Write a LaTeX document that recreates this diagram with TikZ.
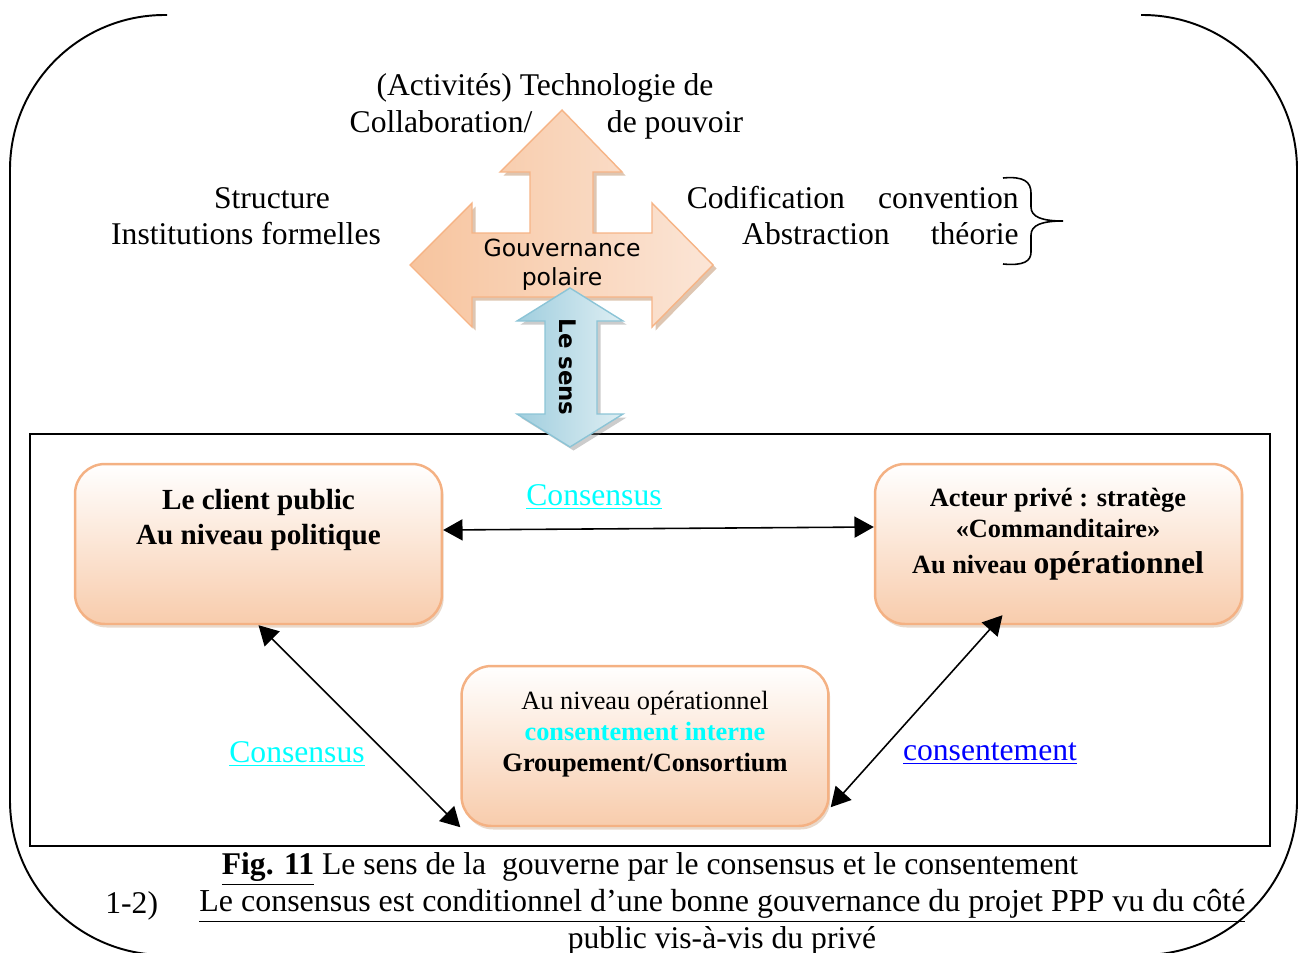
\documentclass[tikz,border=0pt]{standalone}
\usepackage{fontspec}
\setmainfont{Liberation Serif}
\newfontfamily\dejavu{DejaVu Sans}
\usetikzlibrary{arrows.meta,calc,shadows}
\definecolor{boxline}{RGB}{244,177,131}
\definecolor{boxpeach}{RGB}{248,204,172}
\definecolor{crossdark}{RGB}{247,196,158}
\definecolor{crosslight}{RGB}{251,229,214}
\definecolor{crossline}{RGB}{246,180,134}
\definecolor{crossshadow}{RGB}{200,160,126}
\definecolor{bluedark}{RGB}{160,206,222}
\definecolor{bluelight}{RGB}{222,238,243}
\definecolor{blueline}{RGB}{140,196,214}
\definecolor{cyanC}{RGB}{0,255,255}
\definecolor{blueC}{RGB}{0,0,255}

\tikzset{
  lbl/.style={inner sep=0pt, font=\fontsize{18}{20.5}\selectfont},
  box/.style={draw=boxline, line width=1.4pt, rounded corners=17pt,
    minimum width=7.34cm, minimum height=3.2cm,
    top color=white, bottom color=boxpeach,
    drop shadow={shadow xshift=1pt, shadow yshift=-2pt, fill=crossshadow, opacity=0.4}},
  boxtxt/.style={align=center, inner sep=0pt},
  dbl/.style={{Triangle[length=11pt,width=12pt]}-{Triangle[length=11pt,width=12pt]}, line width=0.9pt},
}

\begin{document}
\begin{tikzpicture}[x=0.02cm, y=-0.02cm]
  \useasboundingbox (0,0) rectangle (1298,953);

  % Outer frame (open at the top)
  \draw[line width=1.1pt, rounded corners=88pt] (167,15) -- (10,15) -- (10,955) -- (1297,955) -- (1297,15) -- (1141,15);

  % Inner frame
  \draw[line width=1.2pt] (30,434) rectangle (1270,846);

  % Top labels
  \node[lbl] (activ) at (545,88) {(Activités) Technologie de};
  \node[lbl] (collab) at (441,122) {Collaboration/};
  \node[lbl] (pouvoir) at (675,125) {de pouvoir};
  \node[lbl] (struct) at (272,198) {Structure};
  \node[lbl] (instit) at (246,234) {Institutions formelles};
  \node[lbl, align=right, anchor=east] (codif) at (1019,216)
    {Codification\hspace{1.05em}convention\\Abstraction\hspace{1.3em}théorie};

  % Brace
  \draw[line width=0.9pt] (1003,178) .. controls (1024,176) and (1031,182) .. (1031,193)
    -- (1031,207) .. controls (1031,217) and (1042,221) .. (1063,221)
    .. controls (1042,221) and (1031,225) .. (1031,235)
    -- (1031,252) .. controls (1031,261) and (1024,266) .. (1003,264);

  % Polar arrow
  \path[draw=crossline, line width=0.8pt, left color=crossdark, right color=crosslight,
    drop shadow={shadow xshift=2pt, shadow yshift=-2pt, fill=crossshadow, opacity=0.6}]
    (562,110) -- (622,172) -- (593,172) -- (593,233) -- (652,233) -- (652,203)
    -- (713,265) -- (652,327) -- (652,297) -- (472,297) -- (472,327) -- (410,265)
    -- (472,203) -- (472,233) -- (530,233) -- (530,172) -- (500,172) -- cycle;
  \node[align=center, inner sep=0pt, font=\dejavu\fontsize{13.4}{16.5}\selectfont] (gouv) at (562,265) {Gouvernance\\polaire};

  % Le sens arrow
  \path[draw=blueline, line width=0.8pt, left color=bluedark, right color=bluelight,
    drop shadow={shadow xshift=2pt, shadow yshift=-2pt, fill=gray, opacity=0.4}]
    (570,288) -- (623,321) -- (597,321) -- (597,414) -- (623,414) -- (570,447)
    -- (517,414) -- (545,414) -- (545,321) -- (517,321) -- cycle;
  \node[rotate=-90, inner sep=0pt, font=\dejavu\bfseries\fontsize{13}{15}\selectfont] (sens) at (568,367) {Le sens};

  % Boxes
  \node[box] (client) at (258.5,544) {};
  \node[boxtxt, font=\bfseries\fontsize{16.6}{19.4}\selectfont] (clienttxt) at (258.5,520)
    {Le client public\\Au niveau politique};
  \node[box] (prive) at (1058.5,544) {};
  \node[boxtxt, font=\bfseries\fontsize{15}{17.6}\selectfont] (privetxt) at (1058,534)
    {Acteur privé : stratège\\«Commanditaire»\\[3pt]Au niveau {\fontsize{18}{20}\selectfont opérationnel}};
  \node[box] (groupe) at (645,746) {};
  \node[boxtxt, font=\fontsize{15}{17.6}\selectfont] (groupetxt) at (645,734)
    {Au niveau opérationnel\\{\color{cyanC}\bfseries consentement interne}\\{\bfseries Groupement/Consortium}};

  % Links
  \draw[dbl] ($(client.east)+(0,-14)$) -- ($(prive.west)+(0,-17)$);
  \draw[dbl] (client.south) -- (groupe.south west);
  \draw[dbl] ($(prive.south)+(-56,-10)$) -- ($(groupe.south east)+(1,-20)$);

  \node[lbl, text=cyanC] (consH) at (594,497) {\underline{Consensus}};
  \node[lbl, text=cyanC] (consL) at (297,754) {\underline{Consensus}};
  \node[lbl, text=blueC] (consent) at (990,754) {\underline{consentement}};

  % Caption
  \node[lbl] (fig) at (650,869) {\underline{\textbf{Fig. 11}} Le sens de la\ \ gouverne par le consensus et le consentement};
  \node[lbl, anchor=west] (num) at (105,906) {1-2)};
  \node[lbl, anchor=west, font=\fontsize{18.2}{20.5}\selectfont] (cond) at (199,906) {\underline{Le consensus est conditionnel d’une bonne gouvernance du projet PPP vu du côté}};
  \node[lbl] (vis) at (722,941) {public vis-à-vis du privé};
\end{tikzpicture}
\end{document}
